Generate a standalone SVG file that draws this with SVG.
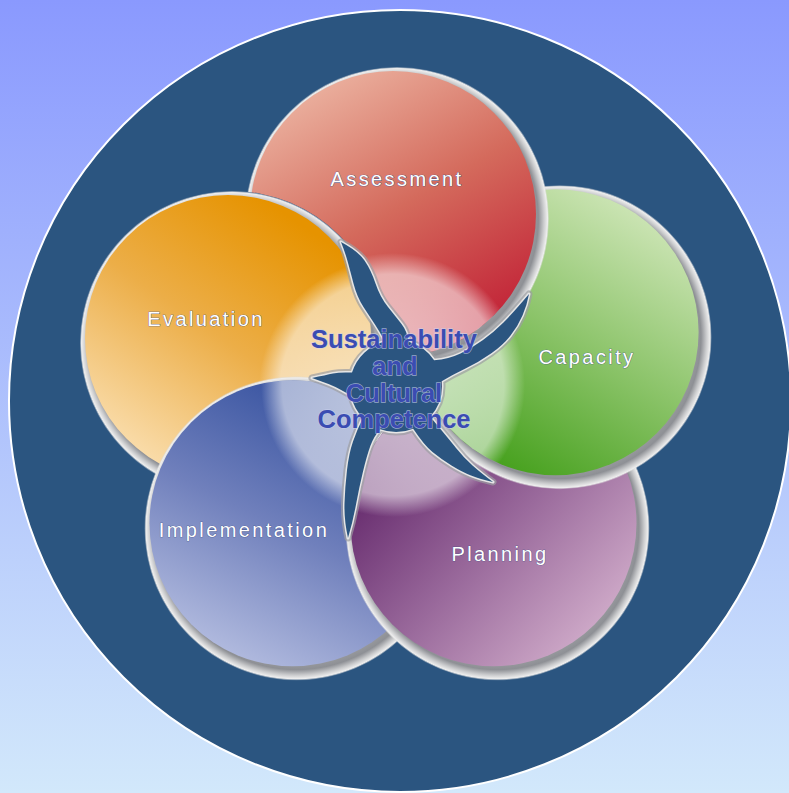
<svg xmlns="http://www.w3.org/2000/svg" width="789" height="793" viewBox="0 0 789 793">
<style>
.lbl{font-family:"Liberation Sans",Arial,sans-serif;font-size:20px;fill:#fff;letter-spacing:2.4px;text-anchor:middle;stroke:#3d4f86;stroke-width:0.7px;paint-order:stroke}
.ctr{font-family:"Liberation Sans",Arial,sans-serif;font-weight:bold;font-size:25.5px;fill:#3b4cb2;text-anchor:middle;stroke:#c9d0ee;stroke-width:1.3px;stroke-opacity:0.7;paint-order:stroke}
.rim{fill:url(#rim)}
.glow{fill:url(#glow)}
.swirl{stroke-linejoin:round}
</style>
<defs>
<linearGradient id="bg" x1="0" y1="0" x2="0" y2="1">
<stop offset="0" stop-color="#8a99fe"/><stop offset="1" stop-color="#d2e8fb"/>
</linearGradient>
<radialGradient id="rim">
<stop offset="0.88" stop-color="#9a9ca0"/>
<stop offset="0.93" stop-color="#8e9095"/>
<stop offset="0.965" stop-color="#c9cacc"/>
<stop offset="0.99" stop-color="#eeeeee"/>
<stop offset="1" stop-color="#d8d8d8" stop-opacity="0.3"/>
</radialGradient>
<radialGradient id="glow" gradientUnits="userSpaceOnUse" cx="393" cy="385" r="132">
<stop offset="0" stop-color="#fff" stop-opacity="0.7"/>
<stop offset="0.84" stop-color="#fff" stop-opacity="0.56"/>
<stop offset="1" stop-color="#fff" stop-opacity="0"/>
</radialGradient>
<linearGradient id="gA" x1="0.25" y1="0" x2="0.8" y2="0.95">
<stop offset="0" stop-color="#ecb4a2"/><stop offset="0.5" stop-color="#d46a5c"/><stop offset="1" stop-color="#c11f35"/>
</linearGradient>
<linearGradient id="gC" x1="0.8" y1="0.05" x2="0.25" y2="0.95">
<stop offset="0" stop-color="#cfe6b8"/><stop offset="0.5" stop-color="#8cc46a"/><stop offset="1" stop-color="#45a01c"/>
</linearGradient>
<linearGradient id="gP" x1="0.1" y1="0.25" x2="0.85" y2="0.95">
<stop offset="0" stop-color="#62266a"/><stop offset="0.5" stop-color="#9a6a9c"/><stop offset="1" stop-color="#d3afcc"/>
</linearGradient>
<linearGradient id="gI" x1="0.65" y1="0.05" x2="0.2" y2="0.95">
<stop offset="0" stop-color="#35519f"/><stop offset="0.5" stop-color="#7080bc"/><stop offset="1" stop-color="#b4bde0"/>
</linearGradient>
<linearGradient id="gE" x1="0.75" y1="0.1" x2="0.2" y2="0.9">
<stop offset="0" stop-color="#e69300"/><stop offset="0.5" stop-color="#ecae48"/><stop offset="1" stop-color="#f9dba8"/>
</linearGradient>
<path id="lens" d="M500.5,308.35 A143,143 0 0 1 285.5,308.35 A132,132 0 0 1 500.5,308.35 Z"/>
<mask id="mA" maskUnits="userSpaceOnUse" x="0" y="0" width="789" height="793">
<rect width="789" height="793" fill="#fff"/>
<circle cx="232" cy="343" r="152" fill="#000"/>
</mask>
<path id="swirlPath" d="M384.9,341.4 Q380,332 375,324.5 Q370,317 363.5,307 Q357,297 353.5,283.5 Q350,270 347.5,261 Q345,252 341,242 Q358,251 364.5,260.5 Q371,270 375.5,283.5 Q380,297 388,307 Q396,317 401.5,324 Q407,331 408.7,341.8 A46,46 0 0 1 434.1,360.3 Q449,359 460.5,353.5 Q472,348 483,340 Q494,332 503.5,322.5 Q513,313 529,294 Q527,305 522.5,315.5 Q518,326 510.5,335.5 Q503,345 491,353.5 Q479,362 465.5,368.5 Q452,375 441.7,381.2 A46,46 0 0 1 430.2,416.8 Q448,438 456,448 Q464,458 472.5,465.5 Q481,473 493,482 Q480,479 471,475.5 Q462,472 451.5,465.5 Q441,459 432.5,452 Q424,445 413.2,428.7 A46,46 0 0 1 380.3,429.2 Q374,436 370.5,445.5 Q367,455 363,471.5 Q359,488 356,504.5 Q353,521 348,538 Q344,520 344.5,503.5 Q345,487 347,470 Q349,453 353,441.5 Q357,430 362.9,418 A46,46 0 0 1 351,395.6 Q338,388 332,385.5 Q326,383 312,378 Q326,375 333,373.5 Q340,372 352,372.6 A46,46 0 0 1 384.9,341.4 Z"/>
</defs>

<rect width="789" height="793" fill="url(#bg)"/>
<circle cx="400" cy="401" r="391" fill="#2b5580" stroke="#ffffff" stroke-width="2"/>

<g id="node-evaluation">
<circle class="rim" cx="232" cy="343" r="152"/>
<circle cx="228" cy="338" r="143" fill="url(#gE)"/>
<use href="#lens" class="glow" transform="translate(-2.4,5.8) rotate(288 393 385)"/>
<text class="lbl" x="206" y="326">Evaluation</text>
</g>

<g id="node-implementation">
<circle class="rim" cx="296.5" cy="528.3" r="152"/>
<circle cx="292.5" cy="523.3" r="143" fill="url(#gI)"/>
<use href="#lens" class="glow" transform="rotate(216 393 385)"/>
<text class="lbl" x="244" y="537">Implementation</text>
</g>

<g id="node-planning">
<circle class="rim" cx="497.5" cy="528.3" r="152"/>
<circle cx="493.5" cy="523.3" r="143" fill="url(#gP)"/>
<use href="#lens" class="glow" transform="rotate(144 393 385)"/>
<text class="lbl" x="500" y="561">Planning</text>
</g>

<g id="node-capacity">
<circle class="rim" cx="559.6" cy="337.2" r="152"/>
<circle cx="555.6" cy="332.2" r="143" fill="url(#gC)"/>
<use href="#lens" class="glow" transform="rotate(72 393 385)"/>
<text class="lbl" x="587" y="364">Capacity</text>
</g>

<g id="node-assessment">
<g mask="url(#mA)">
<circle class="rim" cx="397" cy="219" r="152"/>
<circle cx="393" cy="214" r="143" fill="url(#gA)"/>
<use href="#lens" class="glow"/>
</g>
<text class="lbl" x="397" y="186">Assessment</text>
</g>

<g id="node-center">
<use href="#swirlPath" class="swirl" fill="none" stroke="#9c9ea2" stroke-width="7" stroke-opacity="0.7"/>
<use href="#swirlPath" class="swirl" fill="none" stroke="#e6e6e6" stroke-width="3"/>
<use href="#swirlPath" class="swirl" fill="#2b5580"/>
<text class="ctr" x="394" y="348">Sustainability</text>
<text class="ctr" x="395" y="375">and</text>
<text class="ctr" x="394" y="402">Cultural</text>
<text class="ctr" x="394" y="428">Competence</text>
</g>
</svg>
